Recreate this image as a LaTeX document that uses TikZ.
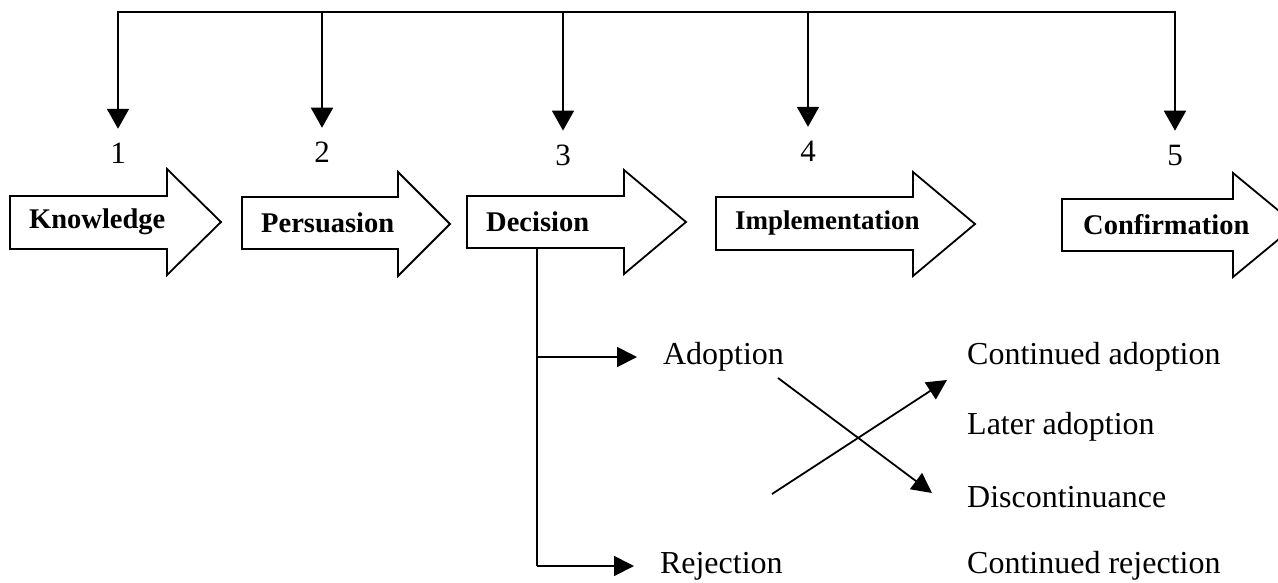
\documentclass[tikz,border=0pt]{standalone}
\usepackage{fontspec}
\setmainfont{Liberation Serif}
\usetikzlibrary{arrows.meta,positioning}

\tikzset{
	bus/.style={line width=2.4pt, line cap=rect},
	drop/.style={line width=1.8pt, -{Triangle[length=20pt,width=22pt]}},
	feed/.style={line width=1.8pt, -{Triangle[length=20pt,width=20pt]}},
	blockarrow/.style={draw, line width=1.8pt, line join=miter, fill=white},
	stage/.style={font=\fontsize{28.5}{32}\selectfont\bfseries, anchor=west, inner sep=0pt},
	phase/.style={font=\fontsize{31}{34}\selectfont, inner sep=0pt, outer sep=14pt},
	choice/.style={font=\fontsize{32}{36}\selectfont, anchor=west, inner sep=0pt, outer sep=26pt},
	outcome/.style={font=\fontsize{32}{36}\selectfont, anchor=west, inner sep=0pt},
}

\begin{document}
\begin{tikzpicture}[x=1pt, y=-1pt]
	\useasboundingbox (0,0) rectangle (1278,582);
	\clip (0,0) rectangle (1278,582);

	% feedback bus over the five stages
	\coordinate (T1) at (118, 12);
	\coordinate (T2) at (322, 12);
	\coordinate (T3) at (563, 12);
	\coordinate (T4) at (808, 12);
	\coordinate (T5) at (1175, 12);
	\draw [bus] (T1) -- (T5);

	\node [phase] (N1) at (118, 153) {1};
	\node [phase] (N2) at (322, 152) {2};
	\node [phase] (N3) at (563, 155) {3};
	\node [phase] (N4) at (808, 151) {4};
	\node [phase] (N5) at (1175, 155) {5};

	\draw [drop] (T1) -- (N1.north);
	\draw [drop] (T2) -- (N2.north);
	\draw [drop] (T3) -- (N3.north);
	\draw [drop] (T4) -- (N4.north);
	\draw [drop] (T5) -- (N5.north);

	% the stages
	\draw [blockarrow] (10,196) -- (167,196) -- (167,169) -- (221,222) -- (167,275) -- (167,249) -- (10,249) -- cycle;
	\draw [blockarrow] (242,197) -- (398,197) -- (398,172) -- (450,224) -- (398,276) -- (398,249) -- (242,249) -- cycle;
	\draw [blockarrow] (467,196) -- (624,196) -- (624,170) -- (686,222) -- (624,274) -- (624,248) -- (467,248) -- cycle;
	\draw [blockarrow] (716,197) -- (913,197) -- (913,172) -- (975,224) -- (913,276) -- (913,250) -- (716,250) -- cycle;
	\draw [blockarrow] (1062,199) -- (1233,199) -- (1233,173) -- (1296,225) -- (1233,277) -- (1233,251) -- (1062,251) -- cycle;

	\node [stage] (know) at (29, 222) {Knowledge};
	\node [stage] (pers) at (261, 223) {Persuasion};
	\node [stage] (deci) at (486, 222) {Decision};
	\node [stage, font=\fontsize{27}{32}\selectfont\bfseries] (impl) at (735, 223) {Implementation};
	\node [stage] (conf) at (1083, 225) {Confirmation};

	% decision branches
	\coordinate (D) at (537, 248);
	\node [choice] (ado) at (637, 357) {Adoption};
	\node [choice] (rej) at (634, 566) {Rejection};
	\draw [feed] (D |- ado) -- (ado);
	\draw [line width=1.8pt] (D) -- (D |- rej);
	\draw [feed] (D |- rej) -- (rej);

	% later outcomes
	\node [outcome] (cont) at (967, 357) {Continued adoption};
	\node [outcome] (late) at (967, 427) {Later adoption};
	\node [outcome] (disc) at (967, 497) {Discontinuance};
	\node [outcome] (crej) at (967, 566) {Continued rejection};

	\coordinate (XA) at (778, 378);
	\coordinate (XB) at (772, 494);
	\coordinate (XC) at (932, 493);
	\coordinate (XD) at (947, 380);
	\draw [feed] (XA) -- (XC);
	\draw [feed] (XB) -- (XD);
\end{tikzpicture}
\end{document}
